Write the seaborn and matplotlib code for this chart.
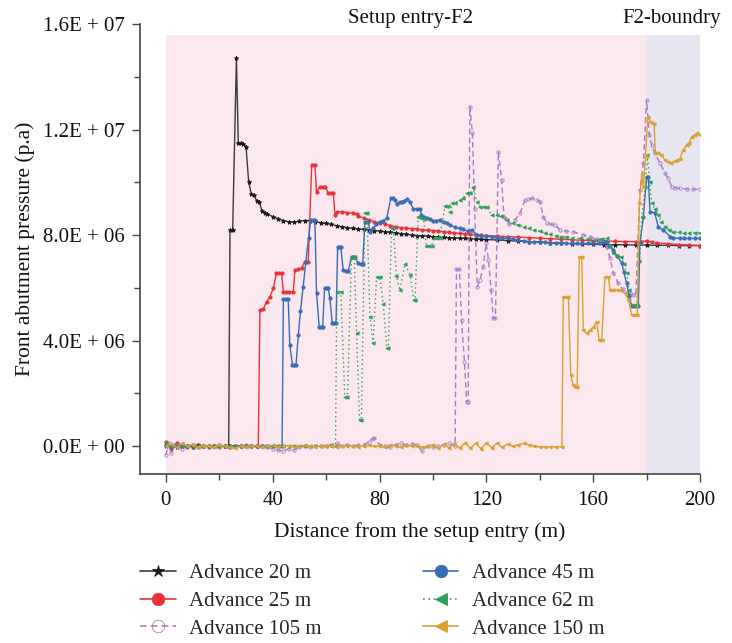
import numpy as np
import pandas as pd
import matplotlib
matplotlib.use("Agg")
import matplotlib.pyplot as plt
import seaborn as sns
from matplotlib.ticker import FuncFormatter, MultipleLocator

# ---------------- data: (distance m, pressure in 1E6 Pa) ----------------
adv20 = [(0, 0.0), (2, 0.02), (4, -0.03), (6, 0.01), (8, 0.0), (10, -0.02), (12, 0.03), (14, 0.0), (16, -0.01),
         (18, 0.02), (20, 0.0), (22, 0.01), (23.5, 0.0), (24, 8.2), (25, 8.2), (26.4, 14.7), (27.1, 11.5), (28, 11.5),
         (29, 11.45), (30, 11.35), (31, 10.0), (32, 9.55), (33, 9.5), (34, 9.3), (35, 9.25), (36, 8.9), (37, 8.85),
         (38, 8.8), (40, 8.7), (42, 8.62), (44, 8.55), (46, 8.5), (48, 8.5), (50, 8.52), (52, 8.55), (54, 8.55),
         (56, 8.5), (58, 8.47), (60, 8.44), (62, 8.4), (64, 8.35), (66, 8.31), (68, 8.28), (70, 8.25), (72, 8.23),
         (74, 8.21), (76, 8.19), (78, 8.17), (80, 8.15), (82, 8.13), (84, 8.1), (86, 8.08), (88, 8.05), (90, 8.03),
         (92, 8.0), (94, 7.98), (96, 7.97), (98, 7.95), (100, 7.94), (102, 7.92), (104, 7.91), (106, 7.9), (108, 7.89),
         (110, 7.88), (112, 7.87), (114, 7.86), (116, 7.85), (118, 7.84), (120, 7.83), (124, 7.81), (128, 7.79),
         (132, 7.77), (136, 7.75), (140, 7.73), (144, 7.71), (148, 7.69), (152, 7.67), (156, 7.66), (160, 7.65),
         (164, 7.64), (168, 7.63), (172, 7.63), (176, 7.62), (180, 7.62), (184, 7.61), (188, 7.61), (192, 7.6),
         (196, 7.6), (200, 7.6)]

adv25 = [(0, 0.15), (2, -0.1), (4, 0.12), (6, 0.0), (8, -0.05), (10, 0.05), (12, 0.0), (14, 0.02), (16, -0.02),
         (18, 0.0), (20, 0.03), (22, 0.0), (24, -0.02), (26, 0.0), (28, 0.02), (30, 0.0), (32, 0.01), (34, 0.0),
         (34.6, 0.0), (35.2, 5.16), (36.5, 5.2), (37.7, 5.47), (39, 5.66), (40.2, 5.98), (41.4, 6.55), (42.4, 6.55),
         (43.3, 6.55), (44, 5.85), (45, 5.85), (46, 5.85), (47.7, 5.85), (48.3, 6.67), (49.5, 6.7), (50.8, 6.74),
         (52, 6.99), (53.3, 6.99), (54.6, 10.65), (55.8, 10.65), (56.4, 9.64), (57.7, 9.83), (58.7, 9.83),
         (59.7, 9.83), (60.8, 9.58), (61.8, 9.58), (62.7, 9.58), (63.3, 8.76), (64, 8.88), (66, 8.88), (68, 8.85),
         (70, 8.82), (71.4, 8.8), (72, 8.72), (74, 8.65), (76, 8.57), (78, 8.5), (80, 8.47), (82, 8.42), (84, 8.36),
         (86, 8.31), (88, 8.28), (90, 8.26), (92, 8.24), (94, 8.22), (96, 8.2), (98, 8.18), (100, 8.17), (102, 8.16),
         (104, 8.12), (106, 8.1), (108, 8.08), (110, 8.06), (112, 8.04), (114, 8.02), (116, 8.0), (118, 7.99),
         (120, 7.98), (124, 7.96), (128, 7.94), (132, 7.92), (136, 7.9), (140, 7.88), (144, 7.86), (148, 7.84),
         (152, 7.82), (156, 7.8), (160, 7.79), (164, 7.77), (168, 7.76), (172, 7.75), (176, 7.75), (178, 7.75),
         (180, 7.78), (182, 7.72), (184, 7.7), (188, 7.67), (192, 7.64), (196, 7.62), (200, 7.6)]

adv105 = [(0, -0.35), (1, 0.1), (2, -0.25), (4, 0.05), (6, -0.1), (8, 0.0), (10, 0.05), (12, -0.05), (14, 0.0),
          (16, 0.02), (18, 0.0), (20, -0.03), (22, 0.0), (24, 0.02), (26, -0.05), (28, 0.0), (30, 0.03), (32, 0.0),
          (34, 0.0), (36, 0.02), (38, -0.05), (40, -0.1), (42, -0.15), (44, -0.2), (46, -0.1), (48, -0.15),
          (50, -0.05), (52, 0.0), (54, -0.02), (56, 0.0), (58, 0.02), (60, 0.0), (62, 0.05), (64, 0.1), (66, 0.0),
          (68, 0.05), (70, 0.0), (72, 0.03), (74, 0.05), (76, 0.15), (77, 0.25), (78, 0.3), (80, 0.05), (82, 0.0),
          (84, -0.05), (86, 0.05), (88, 0.1), (90, 0.05), (92, 0.08), (94, 0.05), (96, -0.2), (98, 0.0),
          (100, -0.05), (102, 0.0), (104, 0.05), (106, 0.1), (108.3, 0.0), (108.8, 6.7), (109.9, 6.7),
          (110.7, 4.78), (111.8, 3.2), (112.6, 1.68), (113.2, 1.68), (113.8, 12.87), (114.8, 11.85), (115.6, 9.0),
          (116.6, 6.04), (117.6, 6.29), (118.8, 6.8), (119.9, 7.68), (120.8, 7.05), (121.8, 5.9), (122.6, 4.84),
          (123.4, 4.84), (124.5, 11.16), (125.7, 10.09), (126.6, 8.69), (127.4, 8.6), (128.5, 8.4), (130.7, 8.57),
          (132.6, 8.82), (134.5, 9.33), (135.5, 9.35), (137, 9.39), (138.8, 9.33), (140.1, 9.27), (141.3, 8.69),
          (142.8, 8.44), (144.5, 8.4), (145.7, 8.38), (147.6, 8.19), (150, 8.15), (152.6, 8.12), (156.2, 8.0),
          (158.8, 7.94), (161.3, 7.84), (163, 7.8), (165, 7.56), (166.3, 7.12), (167.6, 6.55), (169.4, 6.17),
          (171, 5.95), (172.5, 5.79), (174, 5.75), (175, 5.73), (176, 5.78), (177.5, 9.7), (178.8, 10.72),
          (180, 13.12), (181, 11.8), (181.9, 11.41), (183.1, 11.1), (185, 10.72), (186.9, 10.34), (188.1, 10.15),
          (189.4, 9.83), (190.5, 9.8), (192.5, 9.77), (195, 9.75), (197.5, 9.74), (200, 9.73)]

adv45 = [(0, 0.05), (2, -0.05), (4, 0.0), (6, 0.02), (8, 0.0), (10, -0.02), (12, 0.0), (14, 0.01), (16, 0.0),
         (18, -0.01), (20, 0.0), (22, 0.02), (24, 0.0), (26, 0.0), (28, 0.01), (30, 0.0), (32, -0.01), (34, 0.0),
         (36, 0.0), (38, 0.01), (40, 0.0), (42, 0.0), (43.5, 0.0), (44, 5.56), (45, 5.56), (45.8, 5.56),
         (46.4, 3.83), (47.4, 3.07), (48, 3.07), (48.7, 3.07), (49.6, 4.21), (50.4, 5.13), (51.4, 6.04),
         (52.4, 6.99), (53.4, 7.87), (54.2, 8.57), (55, 8.57), (55.8, 8.57), (56.4, 5.81), (57.4, 4.5), (58, 4.5),
         (58.7, 4.5), (59.4, 5.98), (60.2, 5.98), (60.8, 5.98), (61.4, 5.6), (62.3, 4.65), (63, 4.65), (63.7, 4.65),
         (64.3, 7.53), (65, 7.53), (65.5, 7.53), (66.4, 6.67), (67.4, 6.63), (68.3, 6.63), (69.5, 7.18),
         (70.2, 7.18), (70.8, 7.18), (72, 6.93), (73, 6.9), (73.7, 6.9), (74.5, 8.5), (75.2, 8.5), (75.8, 8.5),
         (76.4, 8.12), (77.6, 8.25), (78.8, 8.4), (80, 8.5), (81.3, 8.55), (82.7, 8.63), (84.2, 9.39), (85, 9.4),
         (85.8, 9.33), (86.4, 9.18), (87.5, 9.25), (88.3, 9.26), (89.2, 9.3), (90.1, 9.35), (91.4, 9.26),
         (92.6, 9.0), (94, 9.0), (95.1, 9.0), (95.7, 8.76), (96.6, 8.7), (97.6, 8.63), (98.8, 8.6), (100.1, 8.54),
         (101.3, 8.55), (102.6, 8.57), (104, 8.5), (105.1, 8.44), (106.5, 8.38), (108.2, 8.29), (110, 8.25),
         (111.3, 8.21), (113, 8.15), (114.5, 8.19), (116.4, 8.0), (118, 7.98), (120, 7.95), (122, 7.94),
         (124, 7.9), (126, 7.88), (128, 7.87), (130, 7.84), (132, 7.8), (134, 7.77), (136, 7.75), (138, 7.74),
         (140, 7.73), (142, 7.72), (144, 7.71), (146, 7.7), (148, 7.69), (150, 7.68), (152, 7.68), (154, 7.68),
         (156, 7.68), (158, 7.68), (160, 7.68), (162, 7.68), (164, 7.72), (165, 7.75), (166, 7.6), (167.6, 7.43),
         (169, 7.2), (170.7, 6.93), (171.5, 6.6), (172.5, 6.17), (173.5, 5.7), (174.4, 5.31), (175.5, 5.3),
         (176.9, 5.3), (177.5, 7.68), (178.8, 8.69), (180, 10.21), (180.6, 10.2), (181.3, 8.88), (183, 8.85),
         (184.4, 8.31), (186.3, 8.19), (188.8, 7.94), (190, 7.9), (192.5, 7.87), (194, 7.87), (196, 7.87),
         (198, 7.87), (200, 7.87)]

adv62 = [(0, 0.1), (2, 0.0), (4, -0.05), (6, 0.05), (8, 0.0), (10, 0.02), (12, -0.02), (14, 0.0), (16, 0.0),
         (18, 0.01), (20, 0.0), (22, -0.01), (24, 0.0), (26, 0.0), (28, 0.02), (30, 0.0), (32, 0.0), (34, -0.01),
         (36, 0.0), (38, 0.0), (40, 0.01), (42, 0.0), (44, 0.0), (46, 0.0), (48, 0.02), (50, 0.0), (52, 0.0),
         (54, 0.0), (56, -0.01), (58, 0.0), (60, 0.0), (62, 0.0), (63.5, 0.0), (64, 5.85), (65.5, 5.85), (67, 1.87),
         (68, 1.87), (69.5, 7.18), (70.5, 7.18), (71.4, 4.3), (72.5, 1.0), (73.2, 1.0), (74.5, 8.85), (75.3, 8.85),
         (76.4, 4.9), (77.6, 3.9), (78.9, 6.4), (80.1, 6.4), (81.4, 5.4), (82.7, 3.7), (83.3, 3.7), (84.5, 8.25),
         (85.2, 8.25), (86.3, 6.45), (87.6, 5.9), (89.5, 6.9), (91.4, 6.5), (92.8, 5.54), (93.3, 5.54), (94.5, 8.7),
         (95.5, 8.65), (96.5, 8.6), (97.5, 7.6), (98.5, 7.58), (99.5, 7.6), (100.5, 7.9), (101.5, 7.9), (102.5, 7.9),
         (104.5, 9.1), (105.5, 9.1), (106.4, 8.88), (107.3, 9.2), (108.2, 9.2), (110.1, 9.33), (111.3, 9.4),
         (112.6, 9.58), (114, 9.6), (115.1, 9.83), (116.4, 9.27), (117.6, 9.08), (119, 9.08), (120.1, 9.05),
         (122, 8.76), (124, 8.76), (125.5, 8.72), (127.6, 8.57), (130, 8.44), (132, 8.38), (134, 8.31), (136, 8.25),
         (138, 8.19), (140, 8.14), (142, 8.08), (144, 8.02), (146, 7.98), (148, 7.94), (150, 7.92), (152, 7.9),
         (155, 7.87), (158, 7.84), (161, 7.81), (163, 7.85), (165, 7.87), (166.3, 7.6), (167.6, 7.3), (169, 7.2),
         (170.5, 7.15), (171.5, 6.9), (172.5, 6.55), (173.5, 5.9), (174.4, 5.35), (175.5, 5.35), (176.3, 5.35),
         (177.3, 7.0), (178.2, 8.69), (179.5, 9.83), (180.3, 11.03), (181.2, 10.0), (181.9, 9.2), (183, 9.0),
         (184.4, 8.76), (185.5, 8.5), (186.9, 8.31), (188.5, 8.2), (190, 8.12), (192, 8.1), (194, 8.09),
         (196, 8.09), (198, 8.09), (200, 8.09)]

adv150 = [(0, 0.0), (2, 0.08), (4, -0.05), (6, 0.1), (8, 0.0), (10, 0.05), (12, -0.05), (14, 0.02), (16, 0.0),
          (18, -0.03), (20, 0.05), (22, 0.0), (24, -0.05), (26, -0.08), (28, 0.0), (30, -0.03), (32, 0.0),
          (34, 0.02), (36, -0.02), (38, 0.0), (40, 0.03), (42, -0.02), (44, 0.0), (46, 0.02), (48, -0.03), (50, 0.0),
          (52, 0.03), (54, 0.0), (56, -0.02), (58, 0.0), (60, 0.02), (62, 0.0), (64, -0.03), (66, 0.0), (68, 0.02),
          (70, 0.0), (72, -0.02), (74, 0.0), (76, 0.03), (78, 0.0), (80, 0.0), (82, -0.03), (84, 0.05), (86, 0.0),
          (88, -0.05), (90, 0.03), (92, 0.0), (94, 0.02), (96, -0.05), (98, 0.0), (100, 0.05), (102, -0.08),
          (104, 0.06), (106, -0.06), (108, 0.1), (110, -0.08), (112, 0.12), (114, -0.08), (116, 0.1), (118, -0.1),
          (120, 0.12), (122, -0.06), (124, 0.1), (126, -0.05), (128, 0.08), (130, 0.0), (132, 0.05), (134, 0.1),
          (136, 0.05), (138, 0.0), (140, -0.03), (142, -0.03), (144, -0.03), (146, -0.03), (148.3, -0.03),
          (148.8, 5.66), (149.7, 5.66), (150.7, 5.66), (151.6, 2.69), (152.5, 2.3), (153.2, 2.25), (154, 2.25),
          (154.8, 7.18), (155.7, 7.18), (156.3, 4.4), (157.6, 4.27), (158.8, 4.4), (160, 4.5), (161.3, 4.72),
          (162.2, 4.02), (163.2, 4.02), (164.4, 6.42), (165.7, 6.42), (166.3, 5.91), (167.5, 5.91), (169, 5.91),
          (170, 5.91), (171.9, 5.79), (173.2, 5.54), (174.4, 4.97), (175.5, 4.97), (176.5, 4.97), (177.3, 9.2),
          (178.2, 10.3), (178.8, 9.83), (179.6, 11.0), (180.4, 12.49), (181.2, 12.3), (181.9, 12.23), (182.8, 12.2),
          (183.3, 11.1), (184.4, 11.1), (185.5, 11.05), (186.9, 10.84), (188, 10.78), (189, 10.72), (190.6, 10.8),
          (191.5, 10.85), (192.5, 10.9), (193.7, 11.22), (195, 11.41), (196, 11.5), (196.9, 11.73), (198, 11.8),
          (198.8, 11.85), (200, 11.79)]

labels = ["Advance 20 m", "Advance 25 m", "Advance 105 m", "Advance 45 m", "Advance 62 m", "Advance 150 m"]
xticks = [0, 40, 80, 120, 160, 200]
yticks = [0, 4e6, 8e6, 1.2e7, 1.6e7]

# ---------------- style ----------------
sns.set_theme(style="ticks")
plt.rcParams["font.family"] = ["Liberation Serif", "DejaVu Serif"]

fig = plt.figure(figsize=(7.32, 6.43), dpi=100)
ax = fig.add_axes([140 / 732, 1 - 474 / 643, (700 - 140) / 732, (474 - 24) / 643])

ax.set_xlim(-9.7, 200)
ax.set_ylim(-1.06e6, 1.6e7)

ax.axvspan(0, 180, ymin=0, ymax=0.9756, color="#fbe7ee", lw=0, zorder=0)
ax.axvspan(180, 200, ymin=0, ymax=0.9756, color="#e7e6f0", lw=0, zorder=0)

series = [
    (adv20, labels[0], "#3c3c3c", "-", "*", "#1a1a1a", "#1a1a1a"),
    (adv25, labels[1], "#e8333b", "-", "o", "#e8333b", "#e8333b"),
    (adv105, labels[2], "#a67cc8", (0, (4, 2.5)), "o", "none", "#a67cc8"),
    (adv45, labels[3], "#3a6db5", "-", "o", "#3a6db5", "#3a6db5"),
    (adv62, labels[4], "#2fa05c", (0, (1, 2.2)), "<", "#2fa05c", "#2fa05c"),
    (adv150, labels[5], "#d8a232", "-", "<", "#d8a232", "#d8a232"),
]

for pts, lab, col, ls, mk, mfc, mec in series:
    df = pd.DataFrame(pts, columns=["x", "y"])
    df["y"] = df["y"] * 1e6
    sns.lineplot(data=df, x="x", y="y", ax=ax, sort=False, estimator=None,
                 color=col, linestyle=ls, linewidth=1.0, marker=mk,
                 markersize=2.4 if mk != "*" else 3.3, mfc=mfc, mec=mec, mew=0.6,
                 label=lab)

def yfmt(v, pos):
    if abs(v) < 1:
        return "0.0E + 00"
    e = int(np.floor(np.log10(abs(v))))
    m = v / 10 ** e
    return f"{m:.1f}E + {e:02d}"

ax.set_yticks(yticks)
ax.yaxis.set_major_formatter(FuncFormatter(yfmt))
ax.yaxis.set_minor_locator(MultipleLocator(2e6))
ax.set_xticks(xticks)
ax.xaxis.set_minor_locator(MultipleLocator(20))

for s in ["top", "right"]:
    ax.spines[s].set_visible(False)
for s in ["left", "bottom"]:
    ax.spines[s].set_color("#444444")
    ax.spines[s].set_linewidth(1.2)

ax.tick_params(axis="both", which="major", length=6, width=1.0, color="#444444",
               labelsize=15, labelcolor="#111111", direction="out")
ax.tick_params(axis="both", which="minor", length=4, width=1.0, color="#444444", direction="out")
ax.tick_params(axis="y", pad=5)
ax.tick_params(axis="x", pad=6)

ax.set_xlabel("Distance from the setup entry (m)", fontsize=15.5, color="#111111", labelpad=9)
ax.set_ylabel("Front abutment pressure (p.a)", fontsize=15.5, color="#111111", labelpad=6)

fig.text(411 / 732, 1 - 19 / 643, "Setup entry-F2", ha="center", va="center", fontsize=15, color="#111111")
fig.text(672 / 732, 1 - 19 / 643, "F2-boundry", ha="center", va="center", fontsize=15, color="#111111")

ax.get_legend().remove()
handles, labs = ax.get_legend_handles_labels()
leg = fig.legend(handles, labs, ncol=2, loc="upper left", bbox_to_anchor=(132 / 732, 1 - 555 / 643),
                 frameon=False, fontsize=15, handlelength=1.7, handletextpad=0.65, columnspacing=4.85,
                 labelspacing=0.4, borderaxespad=0)
for h in leg.legend_handles:
    h.set_markersize(9)
    h.set_linewidth(1.2)

fig.savefig("out.png", dpi=100)
